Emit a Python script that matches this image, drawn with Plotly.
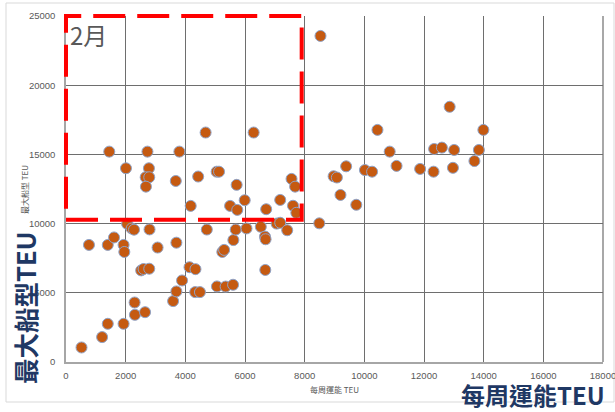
import plotly.graph_objects as go

# Weekly capacity (TEU) vs. largest vessel size (TEU) per service
weekly_teu = [
    520, 1210, 1400, 1930, 2300, 2310, 2650, 770, 1400, 1610,
    1930, 1955, 2050, 2200, 2280, 2800, 3070, 3700, 2520, 2600,
    2790, 3590, 3700, 3890, 4140, 4340, 4330, 4490, 5060, 5350,
    5600, 5240, 5300, 5610, 4720, 5690, 6050, 6530, 6670, 6690,
    6680, 7060, 7180, 7415, 8490, 4180, 5500, 5740, 5990, 6710,
    7180, 7610, 7720, 7560, 7680, 4430, 5050, 5130, 5720, 4680,
    6290, 3800, 1450, 2730, 2010, 2780, 2670, 2790, 2680, 3680,
    8530, 12860, 10440, 13990, 10850, 12340, 12600, 13010, 13840, 13690,
    9390, 8970, 9080, 10020, 10260, 11080, 11870, 12320, 12970, 9200,
    9730,
]
max_ship_teu = [
    1050, 1800, 2760, 2760, 4300, 3410, 3600, 8460, 8460, 9000,
    8460, 7950, 9980, 9650, 9560, 9580, 8270, 8620, 6620, 6720,
    6740, 4400, 5100, 5890, 6850, 6710, 5050, 5050, 5460, 5450,
    5580, 7950, 8100, 8810, 9570, 9570, 9650, 9770, 9060, 8870,
    6650, 10000, 10060, 9520, 10020, 11280, 11280, 10990, 11690, 11040,
    11710, 11290, 10780, 13230, 12670, 13400, 13750, 13750, 12800, 16580,
    16580, 15200, 15200, 15200, 14000, 14000, 13350, 13350, 12670, 13080,
    23560, 18440, 16770, 16770, 15200, 15390, 15490, 15320, 15320, 14520,
    14140, 13420, 13330, 13870, 13750, 14170, 13950, 13750, 14030, 12070,
    11360,
]

x_ticks = list(range(0, 18001, 2000))
y_ticks = list(range(0, 25001, 5000))
X_MAX, Y_MAX = 18000, 25000

# Highlighted region (data units)
hl_x = [0, 7900]
hl_y = [10270, 25000]

W, H = 615, 412
M_L, M_R, M_T, M_B = 66, 12, 16, 50
PW, PH = W - M_L - M_R, H - M_T - M_B


def px_x(p):
    return (p - M_L) / PW


def px_y(p):
    return (H - M_B - p) / PH


fig = go.Figure()
fig.add_trace(go.Scatter(
    x=weekly_teu, y=max_ship_teu, mode="markers",
    marker=dict(size=11, color="#C55A11",
                line=dict(color="#8FA3C8", width=1)),
    cliponaxis=False, showlegend=False,
))

axis_common = dict(
    showgrid=True, gridcolor="#6E6E6E", gridwidth=1,
    zeroline=False, showline=True, linecolor="#A6A6A6", linewidth=1.5,
    ticks="", tickfont=dict(family="Liberation Sans", size=9.5, color="#595959"),
    ticklabeloverflow="allow", automargin=False,
)
fig.update_xaxes(range=[0, X_MAX], tickvals=x_ticks, ticklabelstandoff=4,
                 ticktext=[str(v) for v in x_ticks], **axis_common)
fig.update_yaxes(range=[0, Y_MAX], tickvals=y_ticks, ticklabelstandoff=7,
                 ticktext=[str(v) for v in y_ticks], **axis_common)

shapes = [
    # chart area border
    dict(type="rect", xref="paper", yref="paper",
         x0=px_x(6), x1=px_x(614), y0=px_y(402), y1=px_y(3),
         line=dict(color="#D9D9D9", width=1), layer="below"),
    # plot right frame
    dict(type="line", xref="paper", yref="paper", x0=1, x1=1, y0=0, y1=1,
         line=dict(color="#6E6E6E", width=1.2)),
    # red dashed highlight box
    dict(type="rect", xref="paper", yref="paper",
         x0=hl_x[0] / X_MAX, x1=hl_x[1] / X_MAX,
         y0=hl_y[0] / Y_MAX, y1=hl_y[1] / Y_MAX,
         line=dict(color="#FF0000", width=4, dash="32px,12px"), layer="above"),
]

cjk = "Noto Sans CJK TC"


def label(text, cx, cy, size, color, angle=0):
    return dict(text=text, x=px_x(cx), y=px_y(cy), xref="paper", yref="paper",
                xanchor="center", yanchor="middle", textangle=angle,
                showarrow=False, font=dict(family=cjk, size=size, color=color))


annotations = [
    label("2月", 88, 34, 24, "#595959"),
    label("最大船型 TEU", 24, 190, 8, "#595959", -90),
    label("每周運能 TEU", 334, 389, 8, "#595959"),
    label("<b>最大船型TEU</b>", 24, 308, 25.5, "#1F3864", -90),
    label("<b>每周運能TEU</b>", 533, 394, 24, "#1F3864"),
]

fig.update_layout(
    width=W, height=H,
    margin=dict(l=M_L, r=M_R, t=M_T, b=M_B),
    paper_bgcolor="white", plot_bgcolor="white",
    shapes=shapes, annotations=annotations,
)

fig.write_html("out.html")
